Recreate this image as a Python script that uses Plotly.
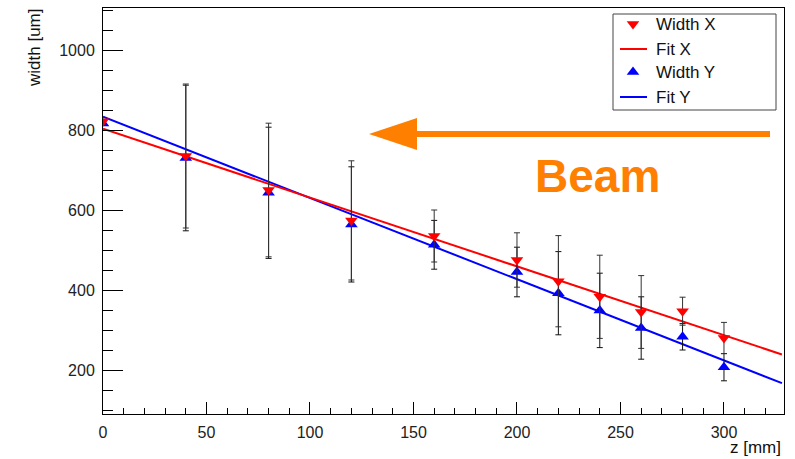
import plotly.graph_objects as go

# Measurement positions along the beam line
z_mm = [0, 40, 80, 120, 160, 200, 220, 240, 260, 280, 300]

# Beam width in X and its uncertainty
width_x = [822, 735, 650, 574, 535, 475, 422, 383, 345, 347, 280]
err_x = [0, 180, 167, 149, 65, 68, 114, 104, 91, 35, 39]

# Beam width in Y and its uncertainty
width_y = [816, 730, 643, 564, 513, 445, 392, 349, 305, 283, 207]
err_y = [0, 182, 164, 144, 61, 62, 104, 93, 78, 33, 34]

# Linear fit results: [intercept, slope]
fit_x = [803.0, -1.72]
fit_y = [833.0, -2.03]
fit_range = [0, 328]

x_ticks = [0, 50, 100, 150, 200, 250, 300]
y_ticks = [200, 400, 600, 800, 1000]

RED = "#ff0000"
BLUE = "#0000ff"
ORANGE = "#ff8000"
FONT = "Liberation Sans, Arial, Helvetica, sans-serif"

# plot-frame geometry in pixels (used for the overlay helper axes)
L, R, T, B = 103, 784, 8, 414
W, H = 795, 459
MSIZE = 11


def fit_line(p, xs):
    return [p[0] + p[1] * x for x in xs]


fig = go.Figure()

fig.add_trace(go.Scatter(
    x=fit_range, y=fit_line(fit_y, fit_range), mode="lines",
    line=dict(color=BLUE, width=2), name="Fit Y", hoverinfo="skip"))
fig.add_trace(go.Scatter(
    x=fit_range, y=fit_line(fit_x, fit_range), mode="lines",
    line=dict(color=RED, width=2), name="Fit X", hoverinfo="skip"))

fig.add_trace(go.Scatter(
    x=z_mm, y=width_y, mode="markers", name="Width Y",
    marker=dict(symbol="triangle-up", size=MSIZE, color=BLUE),
    error_y=dict(type="data", array=err_y, color="#111111",
                 thickness=1, width=3)))
fig.add_trace(go.Scatter(
    x=z_mm, y=width_x, mode="markers", name="Width X",
    marker=dict(symbol="triangle-down", size=MSIZE, color=RED),
    error_y=dict(type="data", array=err_x, color="#333333",
                 thickness=1, width=3)))

# Legend glyphs drawn on a pixel-based overlay axis
leg_rows = [24, 49, 72, 97]
leg_labels = ["Width X", "Fit X", "Width Y", "Fit Y"]
fig.add_trace(go.Scatter(
    x=[633], y=[leg_rows[0]], mode="markers", xaxis="x2", yaxis="y2",
    marker=dict(symbol="triangle-down", size=MSIZE, color=RED),
    showlegend=False, hoverinfo="skip"))
fig.add_trace(go.Scatter(
    x=[633], y=[leg_rows[2]], mode="markers", xaxis="x2", yaxis="y2",
    marker=dict(symbol="triangle-up", size=MSIZE, color=BLUE),
    showlegend=False, hoverinfo="skip"))

shapes = [
    dict(type="rect", xref="x2", yref="y2", x0=613, x1=776, y0=14, y1=110,
         line=dict(color="#444444", width=1), fillcolor="white", layer="below"),
    dict(type="line", xref="x2", yref="y2", x0=620, x1=647,
         y0=leg_rows[1], y1=leg_rows[1], line=dict(color=RED, width=2)),
    dict(type="line", xref="x2", yref="y2", x0=620, x1=647,
         y0=leg_rows[3], y1=leg_rows[3], line=dict(color=BLUE, width=2)),
    # beam direction arrow
    dict(type="line", xref="x2", yref="y2", x0=770, x1=412, y0=134, y1=134,
         line=dict(color=ORANGE, width=6)),
    dict(type="path", xref="x2", yref="y2",
         path="M 369,134 L 417,118 L 417,150 Z",
         fillcolor=ORANGE, line=dict(color=ORANGE, width=0)),
]

annotations = [
    dict(xref="x2", yref="y2", x=654, y=row, text=lab, showarrow=False,
         xanchor="left", yanchor="middle",
         font=dict(family=FONT, size=17, color="#111111"))
    for row, lab in zip(leg_rows, leg_labels)
]
annotations += [
    dict(xref="x2", yref="y2", x=597, y=176, text="<b>Beam</b>",
         showarrow=False, xanchor="center", yanchor="middle",
         font=dict(family=FONT, size=46, color=ORANGE)),
    dict(xref="paper", yref="paper", x=(783 - L) / (R - L),
         y=(B - 447) / (B - T), text="z [mm]", showarrow=False,
         xanchor="right", yanchor="middle",
         font=dict(family=FONT, size=17, color="#111111")),
    dict(xref="paper", yref="paper", x=(35 - L) / (R - L),
         y=(B - 7) / (B - T), text="width [um]", showarrow=False,
         textangle=-90, xanchor="center", yanchor="top",
         font=dict(family=FONT, size=17, color="#111111")),
]

fig.update_layout(
    width=W, height=H,
    margin=dict(l=L, r=W - R, t=T, b=H - B, pad=0),
    paper_bgcolor="white", plot_bgcolor="white",
    showlegend=False,
    font=dict(family=FONT, size=16, color="#222222"),
    xaxis=dict(
        range=[0, 329], tickvals=x_ticks, ticks="inside", ticklen=12,
        tickwidth=1, tickcolor="black",
        minor=dict(dtick=10, tick0=0, ticks="inside", ticklen=6,
                   tickwidth=1, tickcolor="black"),
        showgrid=False, zeroline=False, showline=True, linecolor="black",
        linewidth=1, mirror=True, ticklabelstandoff=4,
        tickfont=dict(family=FONT, size=16, color="#222222")),
    yaxis=dict(
        range=[90, 1105], tickvals=y_ticks, ticks="inside", ticklen=20,
        tickwidth=1, tickcolor="black",
        minor=dict(dtick=50, tick0=0, ticks="inside", ticklen=10,
                   tickwidth=1, tickcolor="black"),
        showgrid=False, zeroline=False, showline=True, linecolor="black",
        linewidth=1, mirror=True, ticklabelstandoff=4,
        tickfont=dict(family=FONT, size=16, color="#222222")),
    xaxis2=dict(overlaying="x", range=[L, R], visible=False, fixedrange=True),
    yaxis2=dict(overlaying="y", range=[B, T], visible=False, fixedrange=True),
    shapes=shapes,
    annotations=annotations,
)

fig.write_html("out.html")
